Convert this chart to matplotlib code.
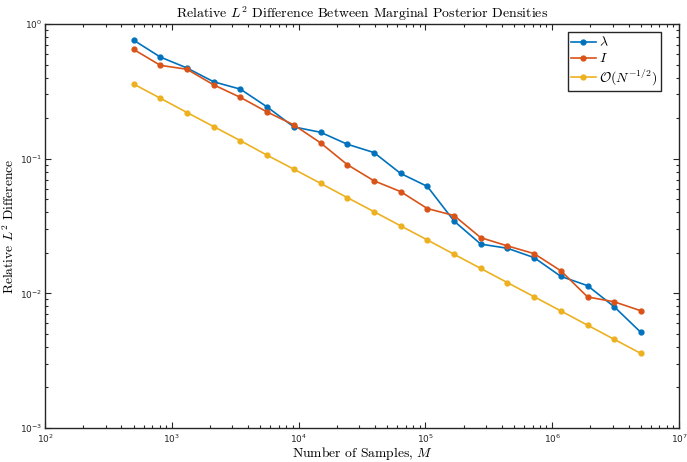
import matplotlib
matplotlib.use("Agg")
import matplotlib.pyplot as plt
from matplotlib.ticker import LogLocator, NullFormatter

# Sample counts and relative L2 differences
samples = [500, 812, 1318, 2141, 3477, 5647, 9170, 14892, 24185, 39276,
           63783, 103583, 168215, 273177, 443634, 720453, 1170000, 1900000,
           3085000, 5000000]
diff_lambda = [0.758, 0.568, 0.471, 0.372, 0.328, 0.242, 0.172, 0.157, 0.128, 0.111,
               0.0776, 0.0622, 0.0344, 0.0232, 0.0216, 0.0184, 0.01336, 0.0114,
               0.00794, 0.00513]
diff_I = [0.647, 0.493, 0.461, 0.353, 0.285, 0.222, 0.178, 0.131, 0.0903, 0.0685,
          0.0569, 0.0426, 0.0378, 0.0259, 0.0225, 0.0197, 0.0147, 0.0094,
          0.00865, 0.00742]
rate_ref = [0.358, 0.281, 0.220, 0.173, 0.136, 0.106, 0.0835, 0.0656, 0.0514, 0.0404,
            0.0317, 0.0249, 0.0195, 0.0153, 0.0120, 0.00943, 0.00740, 0.00580,
            0.00455, 0.00358]
labels = [r"$\lambda$", r"$I$", r"$\mathcal{O}(N^{-1/2})$"]
colors = ["#0072BD", "#D95319", "#EDB120"]

axcol = "#262626"
serif = dict(family="cmr10", math_fontfamily="cm")

fig = plt.figure(figsize=(6.87, 4.62), dpi=100)
ax = fig.add_axes([0.0655, 0.0736, 0.9229, 0.8745])

for y, lab, c in zip([diff_lambda, diff_I, rate_ref], labels, colors):
    ax.plot(samples, y, "-o", color=c, lw=1.2, ms=3.5, label=lab)

ax.set_xscale("log")
ax.set_yscale("log")
ax.set_xlim(1e2, 1e7)
ax.set_ylim(1e-3, 1e0)

ax.xaxis.set_major_locator(LogLocator(base=10, numticks=10))
ax.yaxis.set_major_locator(LogLocator(base=10, numticks=10))
ax.xaxis.set_minor_locator(LogLocator(base=10, subs=range(2, 10), numticks=20))
ax.yaxis.set_minor_locator(LogLocator(base=10, subs=range(2, 10), numticks=20))
ax.xaxis.set_minor_formatter(NullFormatter())
ax.yaxis.set_minor_formatter(NullFormatter())

ax.tick_params(which="both", direction="in", top=True, right=True, colors=axcol,
               labelsize=6.5, width=0.8)
ax.tick_params(axis="y", which="both", pad=2)
ax.tick_params(axis="x", which="both", pad=3.5)
ax.tick_params(which="major", length=4.5)
ax.tick_params(which="minor", length=2.5)
for s in ax.spines.values():
    s.set_color(axcol)
    s.set_linewidth(1.0)

ax.set_title(r"Relative $L^2$ Difference Between Marginal Posterior Densities",
             fontsize=10, color="black", pad=4, **serif)
ax.set_xlabel(r"Number of Samples, $M$", fontsize=9.8, labelpad=0, **serif)
ax.set_ylabel(r"Relative $L^2$ Difference", fontsize=9.8, labelpad=2, **serif)

leg = ax.legend(loc="upper right", bbox_to_anchor=(0.9716, 0.9803),
                prop={"math_fontfamily": "cm", "size": 10},
                fancybox=False, edgecolor=axcol, framealpha=1, handlelength=1.8,
                handletextpad=0.25, borderpad=0.25, labelspacing=0.15,
                borderaxespad=0.0)
leg.get_frame().set_linewidth(1.0)

fig.savefig("out.png", dpi=100)
